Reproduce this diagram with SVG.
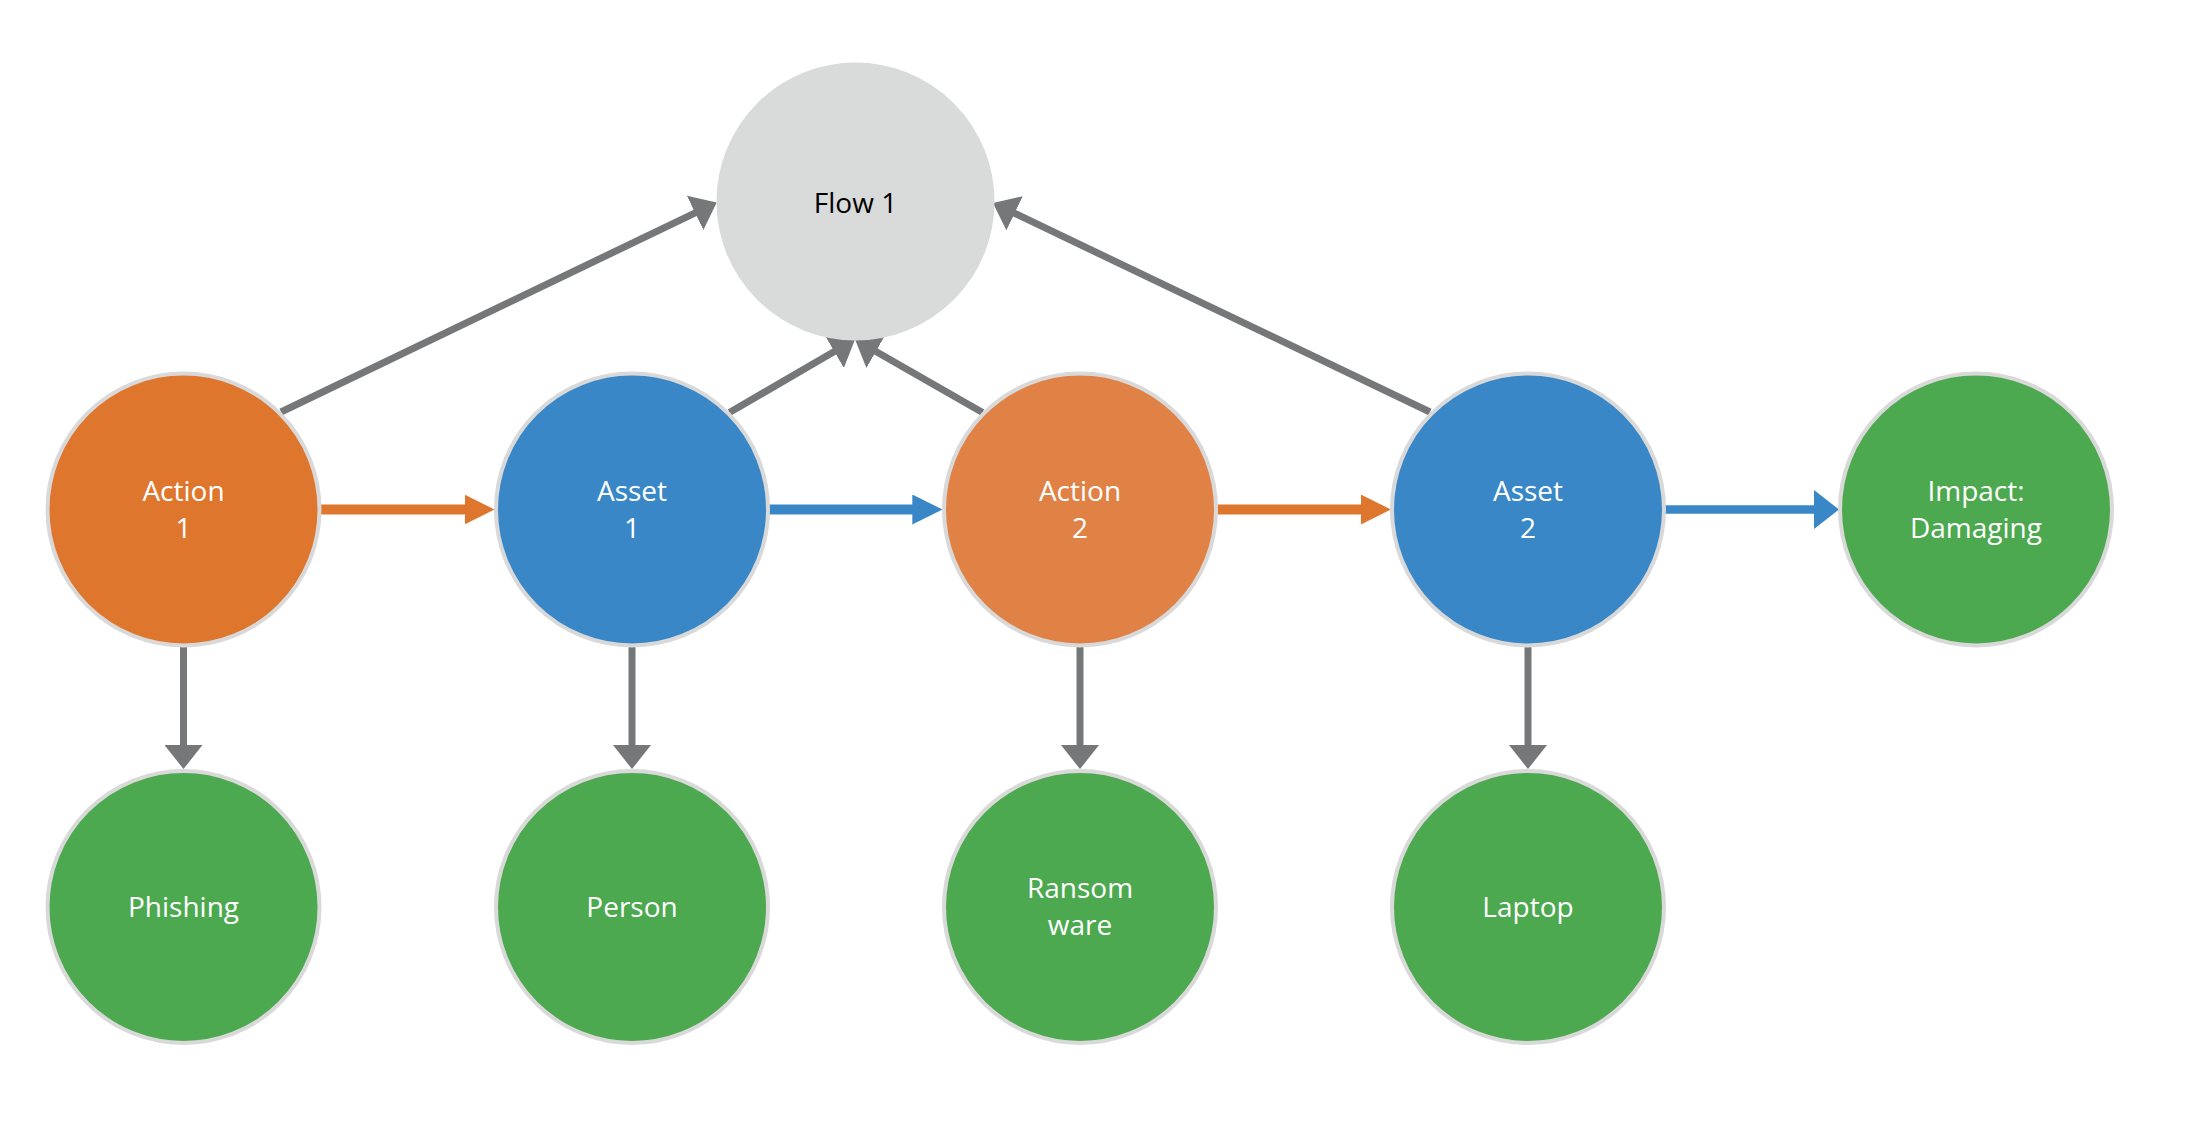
<svg xmlns="http://www.w3.org/2000/svg" width="2196" height="1144" viewBox="0 0 2196 1144">
<style>
.node{stroke:#D9D9D9;stroke-width:4}
.action1{fill:#DF762E}
.action2{fill:#E08246}
.asset{fill:#3A87C8}
.green{fill:#4CA94F}
.flow{fill:#D9DADA;stroke:#D9DADA;stroke-width:2}
.lbl{font-family:"Open Sans","Liberation Sans",sans-serif;font-size:28px;fill:#FFFFFF;text-anchor:middle}
.dark{fill:#000000}
.g{stroke:#767778;stroke-width:7;fill:none;marker-end:url(#mg)}
.o{stroke:#DF762E;stroke-width:10;fill:none;marker-end:url(#mo)}
.b{stroke:#3A87C8;stroke-width:10;fill:none;marker-end:url(#mb)}
.b2{stroke:#3A87C8;stroke-width:8.5;fill:none;marker-end:url(#mb2)}
</style>
<defs>
<marker id="mg" markerUnits="userSpaceOnUse" markerWidth="24" markerHeight="38" viewBox="0 0 24 38" refX="10" refY="19" orient="auto"><path d="M0,0 L24,19 L0,38 z" fill="#767778"/></marker>
<marker id="mo" markerUnits="userSpaceOnUse" markerWidth="30" markerHeight="30" viewBox="0 0 30 30" refX="10" refY="15" orient="auto"><path d="M0,0 L30,15 L0,30 z" fill="#DF762E"/></marker>
<marker id="mb" markerUnits="userSpaceOnUse" markerWidth="30" markerHeight="30" viewBox="0 0 30 30" refX="10" refY="15" orient="auto"><path d="M0,0 L30,15 L0,30 z" fill="#3A87C8"/></marker>
<marker id="mb2" markerUnits="userSpaceOnUse" markerWidth="25" markerHeight="39" viewBox="0 0 25 39" refX="8" refY="19.5" orient="auto"><path d="M0,0 L25,19.5 L0,39 z" fill="#3A87C8"/></marker>
</defs>
<rect width="2196" height="1144" fill="#FFFFFF"/>

<g id="connectors">
<line class="g" x1="281" y1="412" x2="704.1" y2="208.6"/>
<line class="g" x1="1430" y1="412" x2="1005.6" y2="209"/>
<line class="g" x1="729.5" y1="412.5" x2="842.9" y2="346.5"/>
<line class="g" x1="982.5" y1="412.5" x2="867.2" y2="346.5"/>
<line class="o" x1="321" y1="509.5" x2="474.5" y2="509.5"/>
<line class="b" x1="769" y1="509.5" x2="922.3" y2="509.5"/>
<line class="o" x1="1217.5" y1="509.5" x2="1370.8" y2="509.5"/>
<line class="b2" x1="1665" y1="509.5" x2="1822" y2="509.5"/>
<line class="g" x1="183.5" y1="647" x2="183.5" y2="755"/>
<line class="g" x1="632" y1="647" x2="632" y2="755"/>
<line class="g" x1="1080" y1="647" x2="1080" y2="755"/>
<line class="g" x1="1528" y1="647" x2="1528" y2="755"/>
</g>

<g id="flow1">
<circle class="flow" cx="855.5" cy="201.5" r="138"/>
<text class="lbl dark" x="855.5" y="212.5">Flow 1</text>
</g>
<g id="action1">
<circle class="node action1" cx="183.5" cy="509.5" r="136"/>
<text class="lbl" x="183.5" y="500.5">Action</text>
<text class="lbl" x="183.5" y="538">1</text>
</g>
<g id="asset1">
<circle class="node asset" cx="632" cy="509.5" r="136"/>
<text class="lbl" x="632" y="500.5">Asset</text>
<text class="lbl" x="632" y="538">1</text>
</g>
<g id="action2">
<circle class="node action2" cx="1080" cy="509.5" r="136"/>
<text class="lbl" x="1080" y="500.5">Action</text>
<text class="lbl" x="1080" y="538">2</text>
</g>
<g id="asset2">
<circle class="node asset" cx="1528" cy="509.5" r="136"/>
<text class="lbl" x="1528" y="500.5">Asset</text>
<text class="lbl" x="1528" y="538">2</text>
</g>
<g id="impact">
<circle class="node green" cx="1976" cy="509.5" r="136"/>
<text class="lbl" x="1976" y="500.5">Impact:</text>
<text class="lbl" x="1976" y="538">Damaging</text>
</g>
<g id="phishing">
<circle class="node green" cx="183.5" cy="907" r="136"/>
<text class="lbl" x="183.5" y="917">Phishing</text>
</g>
<g id="person">
<circle class="node green" cx="632" cy="907" r="136"/>
<text class="lbl" x="632" y="917">Person</text>
</g>
<g id="ransomware">
<circle class="node green" cx="1080" cy="907" r="136"/>
<text class="lbl" x="1080" y="897.5">Ransom</text>
<text class="lbl" x="1080" y="935">ware</text>
</g>
<g id="laptop">
<circle class="node green" cx="1528" cy="907" r="136"/>
<text class="lbl" x="1528" y="917">Laptop</text>
</g>
</svg>
